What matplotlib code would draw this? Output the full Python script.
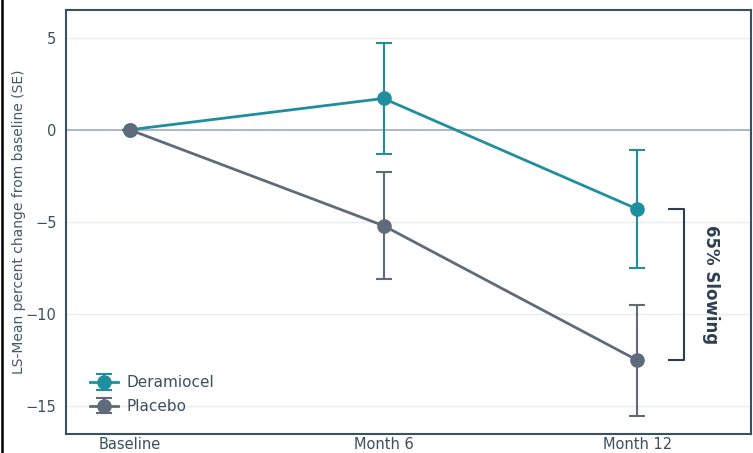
import matplotlib.pyplot as plt
from matplotlib.lines import Line2D

timepoints = ['Baseline', 'Month 6', 'Month 12']
deramiocel_mean = [0, 1.7, -4.3]
deramiocel_se = [0, 3.0, 3.2]
placebo_mean = [0, -5.2, -12.5]
placebo_se = [0, 2.9, 3.0]

teal = '#1f8fa0'
slate = '#5f6b7a'
dark = '#2c3e50'

fig, ax = plt.subplots(figsize=(7.53, 4.53), dpi=100)
fig.subplots_adjust(left=0.088, right=0.998, top=0.978, bottom=0.042)

x = range(len(timepoints))
ax.axhline(0, color='#a3aeb8', lw=1.2, zorder=1)

ax.errorbar(x, deramiocel_mean, yerr=deramiocel_se, color=teal, marker='o',
            markersize=9.5, lw=2, elinewidth=1.5, capsize=6, capthick=1.5,
            label='Deramiocel', zorder=3)
ax.errorbar(x, placebo_mean, yerr=placebo_se, color=slate, marker='o',
            markersize=9.5, lw=2, elinewidth=1.5, capsize=6, capthick=1.5,
            label='Placebo', zorder=3)

# bracket between the two month-12 means
bx = 2.185
ax.plot([bx - 0.06, bx, bx, bx - 0.06],
        [deramiocel_mean[2], deramiocel_mean[2], placebo_mean[2], placebo_mean[2]],
        color=dark, lw=1.5, zorder=2)
ax.text(bx + 0.105, (deramiocel_mean[2] + placebo_mean[2]) / 2, '65% Slowing',
        rotation=-90, ha='center', va='center', fontsize=12,
        fontweight='bold', color=dark)

ax.set_xticks(list(x))
ax.set_xticklabels(timepoints)
ax.set_xlim(-0.25, 2.45)
ax.set_ylim(-16.5, 6.5)
ax.set_yticks([5, 0, -5, -10, -15])
ax.set_yticklabels(['5', '0', '\u22125', '\u221210', '\u221215'])
ax.set_ylabel('LS-Mean percent change from baseline (SE)', fontsize=10,
              color='#46586a', labelpad=0)

ax.yaxis.grid(True, color='#e8ecf0', lw=1)
ax.set_axisbelow(True)
ax.tick_params(length=0, labelsize=10.5, colors='#3d4f5f')
ax.tick_params(axis='y', pad=7)
ax.tick_params(axis='x', pad=2)
for s in ax.spines.values():
    s.set_color('#3d5060')
    s.set_linewidth(1.5)

ax.legend(loc='lower left', bbox_to_anchor=(0.015, 0.015), frameon=False,
          fontsize=11, labelcolor='#3d4f5f', handlelength=1.8,
          handletextpad=0.6, labelspacing=0.55)

fig.add_artist(Line2D([0.003, 0.003], [0, 1], color='black', lw=1.8,
                      transform=fig.transFigure))

fig.savefig('out.png', dpi=100)
